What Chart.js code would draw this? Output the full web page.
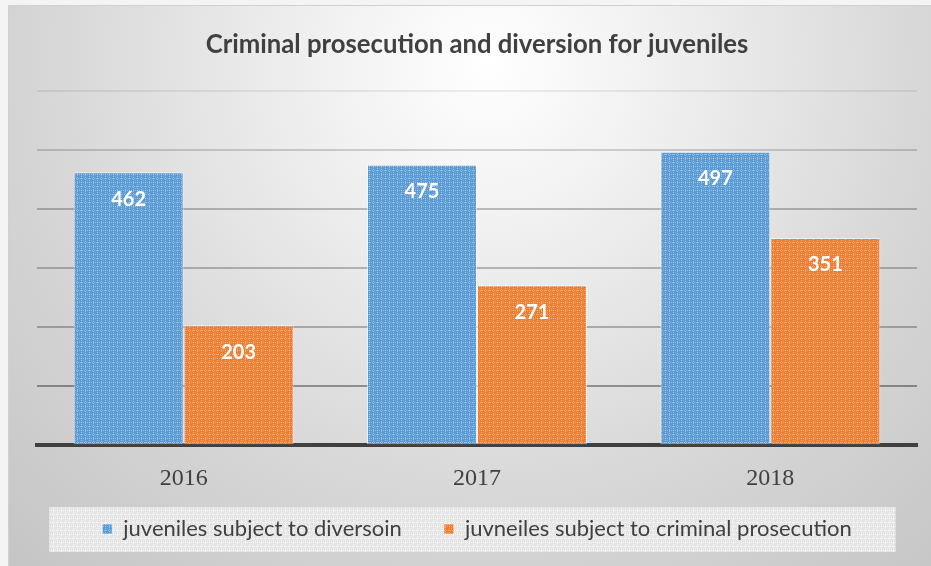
<!DOCTYPE html>
<html>
<head>
<meta charset="utf-8">
<script src="https://cdn.jsdelivr.net/npm/chart.js@4.4.1/dist/chart.umd.min.js"></script>
<style>
  html, body { margin: 0; padding: 0; background: #f4f4f4; }
  #frame {
    position: absolute; left: 8px; top: 5px; width: 923px; height: 561px;
    background: radial-gradient(circle at 52% 10%, #ffffff 0px, #f3f3f3 140px, #d6d6d6 450px, #c6c6c6 680px);
    border-top: 1px solid #d0d0d0; border-left: 1px solid #d0d0d0;
    box-sizing: border-box;
  }
  #chart { display: block; }
</style>
</head>
<body>
<div id="frame"><canvas id="chart" width="922" height="560"></canvas></div>
<script>
// Juveniles per year
const years = ['2016', '2017', '2018'];
const diversion = [462, 475, 497];
const prosecution = [203, 271, 351];
const seriesNames = ['juveniles subject to diversoin', 'juvneiles subject to criminal prosecution'];
const yTicks = [0, 100, 200, 300, 400, 500, 600];

// little dotted-grid tile, like the office "small grid" fill
function textura(base, dot, linha) {
    const c = document.createElement('canvas');
    c.width = 8; c.height = 8;
    const g = c.getContext('2d');
    g.fillStyle = base;
    g.fillRect(0, 0, 8, 8);
    g.fillStyle = dot;
    for (let i = 0; i < 8; i += 2) {
        g.fillRect(i, 0, 1, 1);
        g.fillRect(0, i, 1, 1);
        g.fillRect(i + 1, 4, 1, 1);
        g.fillRect(4, i + 1, 1, 1);
    }
    g.fillStyle = linha;
    g.fillRect(2, 2, 1, 1);
    g.fillRect(6, 6, 1, 1);
    return g.createPattern(c, 'repeat');
}

const azul = textura('#5b9bd5', 'rgba(255,255,255,0.35)', 'rgba(255,255,255,0.2)');
const laranja = textura('#ed7d31', 'rgba(255,255,255,0.35)', 'rgba(255,255,255,0.2)');
const fundoLegenda = textura('#e4e4e4', 'rgba(255,255,255,0.75)', 'rgba(255,255,255,0.4)');

// grid lines get darker towards the bottom
const gridAlpha = { 600: 0.07, 500: 0.16, 400: 0.24, 300: 0.24, 200: 0.26, 100: 0.36, 0: 0 };

const rotulos = {
    id: 'rotulos',
    afterDatasetsDraw(chart) {
        const ctx = chart.ctx;
        ctx.save();
        ctx.fillStyle = '#ffffff';
        ctx.font = 'bold 20px Lato';
        ctx.textAlign = 'center';
        ctx.textBaseline = 'middle';
        chart.data.datasets.forEach((ds, i) => {
            chart.getDatasetMeta(i).data.forEach((bar, j) => {
                ctx.fillText(ds.data[j], bar.x, bar.y + 27);
            });
        });
        ctx.restore();
    }
};

const caixaLegenda = {
    id: 'caixaLegenda',
    beforeDraw(chart) {
        const lg = chart.legend;
        if (!lg || !lg.legendHitBoxes.length) return;
        const boxes = lg.legendHitBoxes;
        const left = Math.min(...boxes.map(b => b.left)) - 53;
        const right = Math.max(...boxes.map(b => b.left + b.width)) + 44;
        const top = boxes[0].top - 11;
        const ctx = chart.ctx;
        ctx.save();
        ctx.fillStyle = fundoLegenda;
        ctx.fillRect(left, top, right - left, 45);
        ctx.restore();
    }
};

new Chart(document.getElementById('chart'), {
    type: 'bar',
    data: {
        labels: years,
        datasets: [
            { label: seriesNames[0], data: diversion, backgroundColor: azul, borderColor: 'rgba(255,255,255,0.55)', borderWidth: 1 },
            { label: seriesNames[1], data: prosecution, backgroundColor: laranja, borderColor: 'rgba(255,255,255,0.55)', borderWidth: 1 }
        ]
    },
    options: {
        responsive: false,
        animation: false,
        devicePixelRatio: 1,
        categoryPercentage: 0.75,
        barPercentage: 1,
        layout: { padding: { left: 28, right: 14, top: 0, bottom: 16 } },
        plugins: {
            title: {
                display: true,
                text: 'Criminal prosecution and diversion for juveniles',
                color: '#404040',
                font: { family: 'Lato', size: 25.7, weight: 'bold' },
                padding: { top: 23, bottom: 31 }
            },
            legend: {
                position: 'bottom',
                labels: {
                    color: '#404040',
                    font: { family: 'Lato', size: 22 },
                    boxWidth: 10,
                    boxHeight: 10,
                    padding: 14,
                    // extra room after the first entry
                    generateLabels(chart) {
                        const itens = Chart.defaults.plugins.legend.labels.generateLabels(chart);
                        itens[0].text += '     ';
                        return itens;
                    }
                }
            },
            tooltip: { enabled: false }
        },
        scales: {
            x: {
                grid: { display: false },
                border: { display: true, color: '#404040', width: 4 },
                ticks: { color: '#404040', font: { family: 'Liberation Serif', size: 24 }, padding: 11 }
            },
            y: {
                min: 0,
                max: 600,
                afterBuildTicks(scale) { scale.ticks = yTicks.map(v => ({ value: v })); },
                ticks: { display: false },
                border: { display: false },
                grid: {
                    lineWidth: 2,
                    drawTicks: false,
                    color: ctx => 'rgba(0,0,0,' + (gridAlpha[ctx.tick.value] ?? 0.2) + ')'
                }
            }
        }
    },
    plugins: [caixaLegenda, rotulos]
});
</script>
</body>
</html>
